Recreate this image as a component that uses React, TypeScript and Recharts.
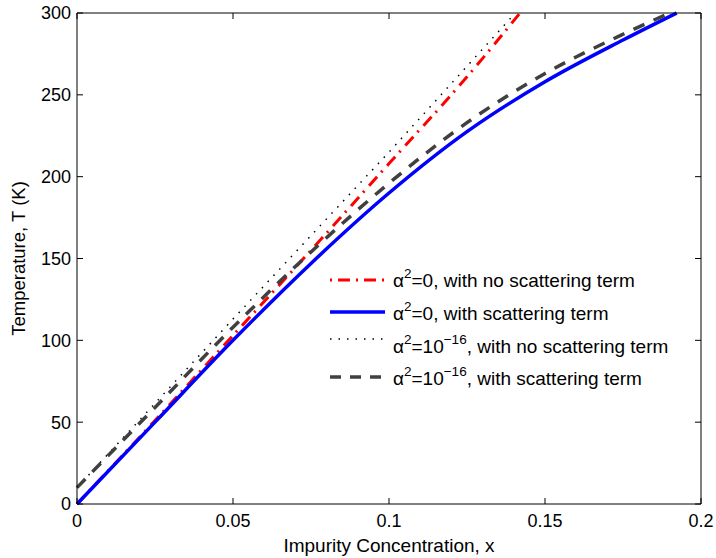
import { LineChart, Line, XAxis, YAxis, Label } from 'recharts';

const xTicks = [0, 0.05, 0.1, 0.15, 0.2];
const yTicks = [0, 50, 100, 150, 200, 250, 300];

// alpha^2 = 0, with no scattering term
const xRedNoScat = [0, 0.025, 0.05, 0.075, 0.1, 0.125, 0.142];
const yRedNoScat = [0, 51, 103, 155, 208, 261, 300];

// alpha^2 = 0, with scattering term
const xBlueScat = [0, 0.025, 0.05, 0.075, 0.1, 0.125, 0.15, 0.175, 0.1922];
const yBlueScat = [0, 50, 100, 147, 190, 227.5, 258, 283.5, 300];

// alpha^2 = 1e-16, with no scattering term
const xDotNoScat = [0, 0.05, 0.1, 0.1405];
const yDotNoScat = [10, 113, 215, 300];

// alpha^2 = 1e-16, with scattering term
const xGrayScat = [0, 0.025, 0.05, 0.075, 0.1, 0.125, 0.15, 0.175, 0.19];
const yGrayScat = [10, 59, 108, 154, 196, 233, 263, 287, 300];

const toPoints = (xs: number[], ys: number[]) => xs.map((x, i) => ({ x, y: ys[i] }));

const FONT = '"Liberation Sans", Arial, Helvetica, sans-serif';

const hiddenTick = { fill: 'none', fontSize: 1 };

const YTitle = (props: any) => {
    const vb = props.viewBox || { y: 13, height: 491 };
    const cx = 25;
    const cy = vb.y + vb.height / 2;
    return (
        <text x={cx} y={cy} transform={`rotate(-90 ${cx} ${cy})`} textAnchor="middle" fontSize={18.5} fill="#000" fontFamily={FONT}>
            Temperature, T (K)
        </text>
    );
};

const legendItems = [
    { y: 280, base: 287, stroke: '#ff0000', width: 3, dash: '2 6 12 6', pow: '' },
    { y: 312, base: 320, stroke: '#0000ff', width: 3.5, dash: undefined, pow: '' },
    { y: 339, base: 353, stroke: '#000000', width: 1.5, dash: '1.5 7', pow: '-16' },
    { y: 377, base: 385, stroke: '#404040', width: 3.5, dash: '11 9', pow: '-16' },
];
const legendTexts = ['with no scattering term', 'with scattering term', 'with no scattering term', 'with scattering term'];

const App = () => {
    const dotted = toPoints(xDotNoScat, yDotNoScat);
    return (
        <div style={{ position: 'absolute', left: 0, top: 0, width: 716, height: 558, background: '#fff' }}>
            <LineChart width={716} height={558} margin={{ top: 13, right: 15, left: 0, bottom: 0 }} style={{ fontFamily: FONT }}>
                <XAxis
                    xAxisId="main"
                    type="number"
                    dataKey="x"
                    domain={[0, 0.2]}
                    ticks={xTicks}
                    height={54}
                    tickSize={0}
                    tickMargin={10}
                    tickLine={false}
                    axisLine={{ stroke: '#000' }}
                    tick={{ fill: '#000', fontSize: 18 }}
                    tickFormatter={(v) => String(v)}
                >
                    <Label value="Impurity Concentration, x" position="insideBottom" offset={6} fill="#000" fontSize={19} />
                </XAxis>
                <XAxis xAxisId="bin" type="number" dataKey="x" domain={[0, 0.2]} allowDataOverflow ticks={xTicks} mirror tickSize={6} tick={hiddenTick} axisLine={false} tickLine={{ stroke: '#000' }} />
                <XAxis xAxisId="top" orientation="top" type="number" dataKey="x" domain={[0, 0.2]} allowDataOverflow ticks={xTicks} mirror tickSize={6} tick={hiddenTick} axisLine={{ stroke: '#000' }} tickLine={{ stroke: '#000' }} />
                <YAxis
                    yAxisId="main"
                    type="number"
                    domain={[0, 300]}
                    ticks={yTicks}
                    width={77}
                    tickSize={0}
                    tickMargin={6}
                    tickLine={false}
                    axisLine={{ stroke: '#000' }}
                    tick={{ fill: '#000', fontSize: 18 }}
                >
                    <Label content={<YTitle />} />
                </YAxis>
                <YAxis yAxisId="lin" type="number" domain={[0, 300]} allowDataOverflow ticks={yTicks} mirror tickSize={6} tick={hiddenTick} axisLine={false} tickLine={{ stroke: '#000' }} />
                <YAxis yAxisId="right" orientation="right" type="number" domain={[0, 300]} allowDataOverflow ticks={yTicks} mirror tickSize={6} tick={hiddenTick} axisLine={{ stroke: '#000' }} tickLine={{ stroke: '#000' }} />

                {/* invisible series so the inward tick axes get ticks */}
                <Line xAxisId="bin" yAxisId="lin" data={dotted} dataKey="y" stroke="none" dot={false} isAnimationActive={false} />
                <Line xAxisId="top" yAxisId="right" data={dotted} dataKey="y" stroke="none" dot={false} isAnimationActive={false} />

                <Line xAxisId="main" yAxisId="main" data={toPoints(xRedNoScat, yRedNoScat)} dataKey="y" type="monotone" stroke="#ff0000" strokeWidth={3} strokeDasharray="12 6 2 7" dot={false} isAnimationActive={false} />
                <Line xAxisId="main" yAxisId="main" data={toPoints(xBlueScat, yBlueScat)} dataKey="y" type="monotone" stroke="#0000ff" strokeWidth={3.5} dot={false} isAnimationActive={false} />
                <Line xAxisId="main" yAxisId="main" data={dotted} dataKey="y" type="linear" stroke="#000000" strokeWidth={1.5} strokeDasharray="1.5 7" dot={false} isAnimationActive={false} />
                <Line xAxisId="main" yAxisId="main" data={toPoints(xGrayScat, yGrayScat)} dataKey="y" type="monotone" stroke="#404040" strokeWidth={3.5} strokeDasharray="12 10" dot={false} isAnimationActive={false} />
            </LineChart>
            <svg width={716} height={558} style={{ position: 'absolute', left: 0, top: 0, pointerEvents: 'none' }} fontFamily={FONT}>
                {legendItems.map((it, i) => (
                    <g key={i}>
                        <line x1={330} x2={385} y1={it.y} y2={it.y} stroke={it.stroke} strokeWidth={it.width} strokeDasharray={it.dash} />
                        <text x={393} y={it.base} fontSize={19} fill="#000">
                            α<tspan fontSize={13.5} dy={-9}>2</tspan>
                            <tspan dy={9}>{it.pow ? '=10' : '=0, '}</tspan>
                            {it.pow ? <tspan fontSize={13.5} dy={-9}>−16</tspan> : null}
                            {it.pow ? <tspan dy={9}>, </tspan> : null}
                            <tspan>{legendTexts[i]}</tspan>
                        </text>
                    </g>
                ))}
            </svg>
        </div>
    );
};

export default App;
